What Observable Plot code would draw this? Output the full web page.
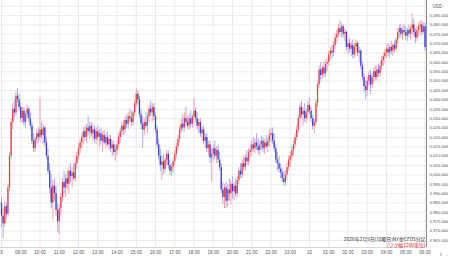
<!DOCTYPE html>
<html><head><meta charset="utf-8">
<script src="https://cdn.jsdelivr.net/npm/d3@7"></script>
<script src="https://cdn.jsdelivr.net/npm/@observablehq/plot@0.6"></script>
<style>html,body{margin:0;padding:0;background:#fff;} svg{display:block}</style>
</head><body><div id="chart"></div>
<script>
// 5-minute candles, NY gold CFD, from 08:00 on 2/9 to 06:00 on 2/10
const startHour = 8;
const barMinutes = 5;
const opens = [
4985,4978,4974,4983,4979,4993,5010,5028,5035,5033,5042,5040,
5036,5030,5034,5028,5032,5035,5030,5026,5018,5014,5019,5022,
5020,5024,5021,5025,5017,5010,5002,4993,4985,4994,4990,4981,
4975,4982,4988,4996,4993,4998,4995,5002,4999,5001,4998,5006,
5010,5014,5017,5020,5023,5020,5025,5023,5026,5022,5024,5019,
5023,5020,5022,5018,5021,5017,5020,5016,5019,5014,5016,5012,
5013,5016,5020,5023,5026,5024,5029,5027,5031,5030,5028,5033,
5038,5043,5040,5032,5027,5024,5028,5026,5031,5035,5033,5036,
5031,5024,5016,5010,5005,5007,5003,5008,5011,5005,5002,5004,
5007,5011,5015,5019,5024,5027,5025,5030,5028,5026,5030,5027,
5031,5034,5030,5026,5028,5022,5024,5018,5020,5014,5016,5009,
5011,5014,5010,5013,5008,5004,4992,4988,4993,4986,4992,4990,
4995,4991,4994,4990,4997,5002,5000,5006,5004,5009,5007,5012,
5013,5016,5014,5017,5015,5013,5016,5018,5014,5017,5015,5018,
5021,5022,5018,5014,5008,5006,5003,5001,4998,4996,5000,5004,
5008,5010,5013,5016,5020,5024,5030,5036,5032,5034,5030,5033,
5037,5034,5030,5026,5028,5038,5048,5056,5053,5057,5054,5059,
5060,5064,5066,5065,5069,5073,5075,5078,5076,5079,5075,5076,
5068,5070,5067,5069,5064,5068,5070,5065,5066,5058,5052,5047,
5045,5050,5053,5048,5052,5055,5052,5056,5054,5058,5061,5063,
5065,5067,5065,5068,5066,5069,5067,5072,5076,5078,5075,5077,
5076,5074,5077,5075,5078,5080,5076,5073,5077,5079,5080,5076,
5079];
const highs = [
4988,4982,4986,4985,4995,5012,5030,5038,5040,5044,5046,5043,
5038,5036,5036,5034,5037,5036,5033,5028,5022,5020,5024,5025,
5041,5028,5027,5026,5020,5014,5006,5000,4997,4998,4994,4985,
4984,4990,4998,5002,5000,5002,5004,5006,5004,5006,5008,5012,
5016,5019,5022,5025,5026,5027,5031,5028,5028,5027,5026,5025,
5026,5024,5025,5023,5024,5022,5023,5021,5021,5018,5018,5016,
5018,5022,5025,5028,5029,5031,5032,5033,5035,5034,5034,5040,
5046,5045,5042,5035,5031,5030,5033,5033,5037,5039,5038,5038,
5033,5026,5019,5014,5010,5011,5009,5013,5013,5008,5006,5009,
5013,5017,5021,5026,5030,5032,5033,5036,5031,5032,5034,5032,
5041,5036,5033,5030,5030,5026,5026,5022,5022,5018,5018,5014,
5016,5018,5015,5016,5012,5006,4996,4995,4996,4995,4998,4997,
4999,4996,4998,4999,5004,5006,5008,5010,5011,5013,5014,5016,
5018,5020,5019,5022,5019,5018,5021,5020,5019,5021,5020,5024,
5025,5025,5022,5016,5012,5010,5006,5004,5002,5002,5006,5010,
5012,5015,5018,5022,5026,5032,5038,5039,5036,5038,5035,5039,
5041,5036,5032,5030,5040,5050,5058,5060,5058,5060,5061,5062,
5066,5068,5069,5071,5075,5077,5080,5082,5081,5080,5078,5077,
5072,5073,5071,5072,5070,5072,5071,5068,5067,5060,5054,5050,
5052,5055,5056,5054,5057,5058,5058,5059,5060,5063,5065,5067,
5069,5070,5069,5071,5070,5071,5073,5078,5080,5080,5079,5080,
5079,5078,5080,5079,5086,5083,5078,5079,5081,5082,5082,5081,
5081];
const lows = [
4972,4966,4972,4976,4978,4991,5008,5024,5030,5031,5038,5034,
5028,5027,5026,5025,5030,5028,5024,5016,5012,5012,5016,5017,
5018,5019,5016,5015,5008,5000,4990,4982,4976,4986,4978,4969,
4968,4978,4985,4990,4988,4992,4990,4996,4993,4997,4996,5003,
5008,5011,5014,5016,5018,5017,5021,5019,5020,5018,5017,5016,
5018,5015,5016,5012,5016,5014,5015,5013,5012,5010,5010,5007,
5010,5014,5017,5020,5021,5022,5025,5024,5028,5026,5026,5031,
5036,5037,5030,5024,5014,5021,5025,5022,5028,5031,5028,5029,
5022,5014,5008,5002,4997,5000,5001,5005,5003,5000,4999,5001,
5005,5009,5013,5017,5022,5023,5023,5026,5024,5024,5025,5025,
5029,5028,5024,5022,5020,5018,5016,5014,5012,5010,5006,4996,
5007,5008,5006,5006,5002,4990,4984,4982,4982,4983,4986,4984,
4987,4986,4988,4988,4995,4998,4998,5002,5002,5005,5005,5009,
5010,5012,5011,5013,5011,5010,5013,5012,5011,5014,5012,5015,
5017,5016,5012,5006,5002,5001,4998,4996,4994,4994,4997,5002,
5004,5007,5010,5014,5018,5022,5028,5030,5026,5028,5027,5030,
5032,5028,5024,5022,5026,5036,5046,5050,5051,5052,5052,5055,
5058,5061,5062,5063,5067,5070,5073,5074,5073,5073,5071,5066,
5064,5065,5063,5062,5062,5065,5063,5060,5056,5050,5044,5040,
5042,5047,5043,5046,5049,5050,5050,5052,5052,5056,5058,5060,
5062,5063,5062,5064,5063,5065,5066,5070,5073,5073,5072,5074,
5072,5071,5073,5072,5075,5074,5070,5071,5074,5075,5074,5075,
5066];
const closes = [
4978,4974,4983,4979,4993,5010,5028,5035,5033,5042,5040,5036,
5030,5034,5028,5032,5035,5030,5026,5018,5014,5019,5022,5020,
5024,5021,5025,5017,5010,5002,4993,4985,4994,4990,4981,4975,
4982,4988,4996,4993,4998,4995,5002,4999,5001,4998,5006,5010,
5014,5017,5020,5023,5020,5025,5023,5026,5022,5024,5019,5023,
5020,5022,5018,5021,5017,5020,5016,5019,5014,5016,5012,5013,
5016,5020,5023,5026,5024,5029,5027,5031,5030,5028,5033,5038,
5043,5040,5032,5027,5024,5028,5026,5031,5035,5033,5036,5031,
5024,5016,5010,5005,5007,5003,5008,5011,5005,5002,5004,5007,
5011,5015,5019,5024,5027,5025,5030,5028,5026,5030,5027,5031,
5034,5030,5026,5028,5022,5024,5018,5020,5014,5016,5009,5011,
5014,5010,5013,5008,5004,4992,4988,4993,4986,4992,4990,4995,
4991,4994,4990,4997,5002,5000,5006,5004,5009,5007,5012,5013,
5016,5014,5017,5015,5013,5016,5018,5014,5017,5015,5018,5021,
5022,5018,5014,5008,5006,5003,5001,4998,4996,5000,5004,5008,
5010,5013,5016,5020,5024,5030,5036,5032,5034,5030,5033,5037,
5034,5030,5026,5028,5038,5048,5056,5053,5057,5054,5059,5060,
5064,5066,5065,5069,5073,5075,5078,5076,5079,5075,5076,5068,
5070,5067,5069,5064,5068,5070,5065,5066,5058,5052,5047,5045,
5050,5053,5048,5052,5055,5052,5056,5054,5058,5061,5063,5065,
5067,5065,5068,5066,5069,5067,5072,5076,5078,5075,5077,5076,
5074,5077,5075,5078,5080,5076,5073,5077,5079,5080,5076,5079,
5068];
// Axis ticks (hours counted from 00:00 on 2/9) and labels
const hourTicks = [8,9,10,11,12,13,14,15,16,17,18,19,20,21,22,23,24,25,26,27,28,29,30];
const hourLabels = ["9","09:00","10:00","11:00","12:00","13:00","14:00","15:00","16:00","17:00","18:00","19:00","20:00","21:00","22:00","23:00","10","01:00","02:00","03:00","04:00","05:00","06:00"];
const priceTicks = [4965,4970,4975,4980,4985,4990,4995,5000,5005,5010,5015,5020,5025,5030,5035,5040,5045,5050,5055,5060,5065,5070,5075,5080,5085];
const gridPrices = priceTicks.concat([5090]);
const unitLabel = "USD";
const captionLine1 = "2026年2月9日(月曜日)NY金CFD5分足";
const captionLine2 = "(ワク幅1200単位)";

const rows = closes.map((c, i) => ({
  t: startHour + i * barMinutes / 60,
  o: opens[i], h: highs[i], l: lows[i], c
}));
const up = d => d.c >= d.o;
const xDomain = [7.948, 30.078];
const yDomain = [4961.27, 5093];

const chart = Plot.plot({
  width: 450, height: 258,
  marginLeft: 0, marginRight: 24, marginTop: 0, marginBottom: 11,
  style: {fontFamily: "'Liberation Sans', Arial, sans-serif", background: "#fff", overflow: "visible"},
  x: {domain: xDomain},
  y: {domain: yDomain},
  marks: [
    Plot.gridX(hourTicks, {stroke: "#e9e9e9", strokeOpacity: 1}),
    Plot.gridY(gridPrices, {stroke: "#ececec", strokeOpacity: 1}),
    Plot.ruleX(rows, {x: "t", y1: "l", y2: "h", stroke: d => up(d) ? "#f3a3ad" : "#aaaaf0", strokeWidth: 1}),
    Plot.ruleX(rows, {x: "t", y1: "o", y2: "c", stroke: d => up(d) ? "#e8404a" : "#3d3dd2", strokeWidth: 1.3}),
    Plot.ruleX([xDomain[1]], {stroke: "#8a8a8a", strokeWidth: 1}),
    Plot.ruleY([yDomain[0]], {stroke: "#d8d8d8", strokeWidth: 1}),
    Plot.axisY(priceTicks, {anchor: "right", tickSize: 0, tickPadding: 3, tickFormat: d3.format(",.3f"), fontSize: 4.2, fill: "#555"}),
    Plot.axisX(hourTicks, {anchor: "bottom", tickSize: 0, tickPadding: 3, tickFormat: (d, i) => hourLabels[i], fontSize: 4.6, fill: "#555"}),
    Plot.text([unitLabel], {frameAnchor: "top-right", dx: 6, dy: 4, textAnchor: "start", fontSize: 4.6, fill: "#555"}),
    Plot.text([captionLine1], {frameAnchor: "bottom-right", dx: -1, dy: -6.3, textAnchor: "end", lineAnchor: "bottom", fontSize: 4.9, fill: "#333", fontFamily: "'Noto Sans CJK JP', sans-serif"}),
    Plot.text([captionLine2], {frameAnchor: "bottom-right", dx: -1, dy: -0.8, textAnchor: "end", lineAnchor: "bottom", fontSize: 4.9, fill: "#e02020", fontFamily: "'Noto Sans CJK JP', sans-serif"})
  ]
});
document.getElementById("chart").appendChild(chart);
</script>
</body></html>
